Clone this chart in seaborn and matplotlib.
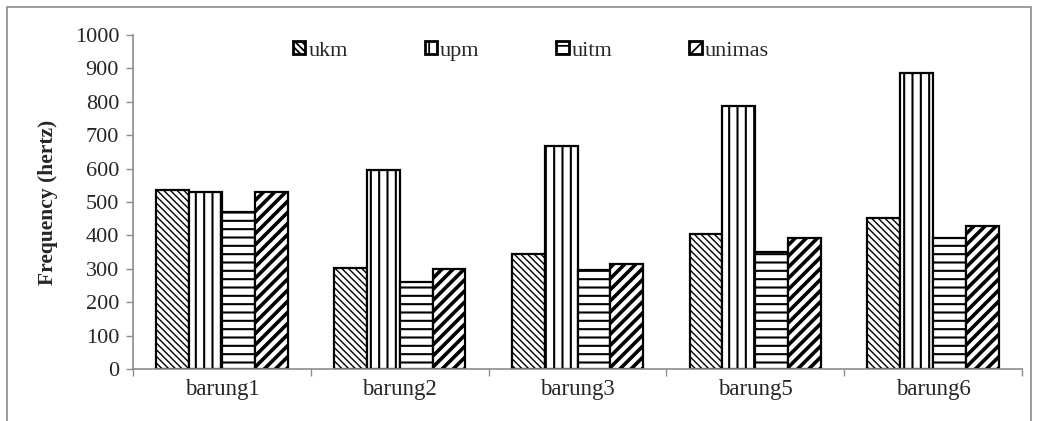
import matplotlib
matplotlib.use("Agg")
import matplotlib.pyplot as plt
import seaborn as sns
import pandas as pd
from matplotlib.patches import Patch, Rectangle
from matplotlib.ticker import FixedLocator

categories = ["barung1", "barung2", "barung3", "barung5", "barung6"]
series = ["ukm", "upm", "uitm", "unimas"]
ukm = [536, 302, 344, 404, 452]
upm = [530, 596, 668, 787, 885]
uitm = [470, 260, 296, 350, 392]
unimas = [530, 298, 314, 392, 428]
yticks = list(range(0, 1001, 100))

values = {"ukm": ukm, "upm": upm, "uitm": uitm, "unimas": unimas}
rows = []
for s in series:
    for c, v in zip(categories, values[s]):
        rows.append({"cat": c, "series": s, "val": v})
df = pd.DataFrame(rows)

sns.set_theme(style="white")
plt.rcParams["font.family"] = ["Liberation Serif", "DejaVu Serif"]
plt.rcParams["hatch.linewidth"] = 1.3
plt.rcParams["hatch.color"] = "black"

hatches = {"ukm": "\\" * 5, "upm": "||", "uitm": "--", "unimas": "///"}
hlw = {"ukm": 1.0, "upm": 1.5, "uitm": 1.5, "unimas": 2.6}

fig = plt.figure(figsize=(10.39, 4.21), dpi=100)
ax = fig.add_axes([133/1039, 52/421, (1022-133)/1039, (369-35)/421])

sns.barplot(data=df, x="cat", y="val", hue="series", order=categories,
            hue_order=series, palette=["white"]*4, edgecolor="black",
            linewidth=1.6, width=0.74, gap=0, legend=False, ax=ax,
            saturation=1)

for cont, s in zip(ax.containers, series):
    for bar in cont:
        bar.set_hatch(hatches[s])
        try:
            bar.set_hatch_linewidth(hlw[s])
        except Exception:
            pass

ax.set_ylim(0, 1000)
ax.set_xlim(-0.5, len(categories) - 0.5)
ax.set_yticks(yticks)
ax.set_yticklabels([str(t) for t in yticks], fontsize=16)
ax.tick_params(axis="y", length=5, width=1, color="#8c8c8c", pad=5, left=True)
ax.tick_params(axis="x", which="major", length=0, pad=7, labelsize=16.5)
ax.xaxis.set_minor_locator(FixedLocator([i - 0.5 for i in range(len(categories) + 1)]))
ax.tick_params(axis="x", which="minor", length=5, width=1, color="#8c8c8c", bottom=True)
ax.set_xlabel("")
ax.set_ylabel("Frequency (hertz)", fontsize=15.5, fontweight="bold", labelpad=12)
for sp in ["top", "right"]:
    ax.spines[sp].set_visible(False)
for sp in ["left", "bottom"]:
    ax.spines[sp].set_color("#8c8c8c")
    ax.spines[sp].set_linewidth(1.2)
ax.grid(False)

handles = []
for s in series:
    p = Patch(facecolor="white", edgecolor="black", hatch=hatches[s], linewidth=2.0, label=s)
    try:
        p.set_hatch_linewidth(2.0)
    except Exception:
        pass
    handles.append(p)
leg = fig.legend(handles=handles, loc="upper left", bbox_to_anchor=(293/1039, (421-41)/421),
                 ncol=4, frameon=False, fontsize=16, handlelength=0.55, handleheight=0.55,
                 handletextpad=0.15, columnspacing=3.45, borderpad=0, borderaxespad=0)

fig.patches.append(Rectangle((7/1039, -0.1), (1031-7)/1039, (421-7)/421 + 0.1,
                             transform=fig.transFigure, fill=False,
                             edgecolor="#8c8c8c", linewidth=1.2, clip_on=False))

fig.savefig("out.png", dpi=100)
